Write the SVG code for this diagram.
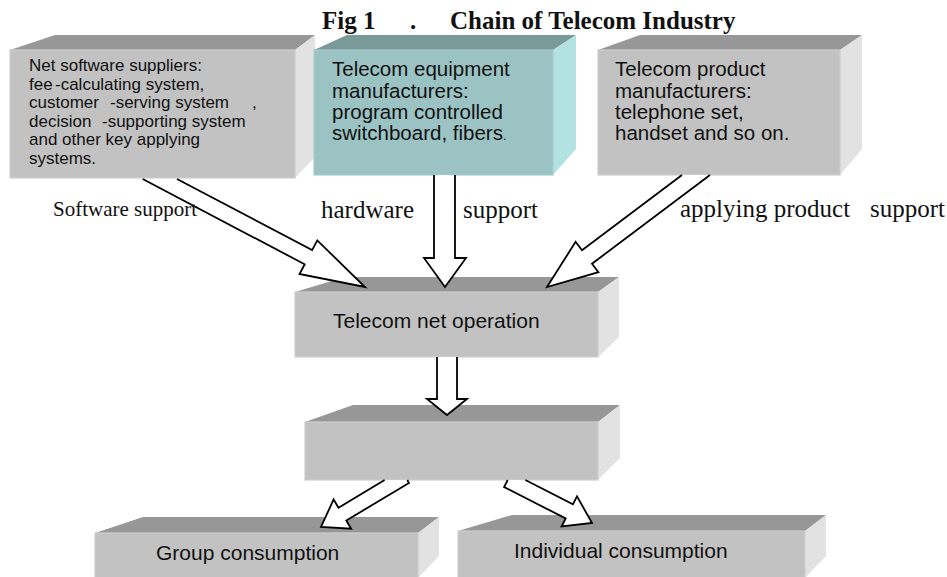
<svg xmlns="http://www.w3.org/2000/svg" width="947" height="577" viewBox="0 0 947 577">
  <style>
    .front { fill: #c2c2c2; stroke: #cdcdcd; stroke-width: 1.2; }
    .top { fill: #979797; }
    .side { fill: #e2e2e2; }
    .tfront { fill: #9cc3c3; stroke: #a8cccc; stroke-width: 1.2; }
    .ttop { fill: #7a9a99; }
    .tside { fill: #b3e2e2; }
    .box-text { font-family: "Liberation Sans", Arial, sans-serif; fill: #111; }
    .lbl { font-family: "Liberation Serif", "Times New Roman", serif; fill: #111; }
    .title { font-family: "Liberation Serif", "Times New Roman", serif; font-weight: bold; font-size: 25px; fill: #111; }
    .arrow { fill: #fff; stroke: #000; stroke-width: 1.8; stroke-linejoin: miter; }
  </style>

  <!-- heading -->
  <text class="title" y="29"><tspan x="322">Fig 1</tspan><tspan x="410">.</tspan><tspan x="450">Chain of Telecom Industry</tspan></text>

  <!-- supplier boxes -->
  <g id="net-software">
    <polygon class="top" points="10,50 55,35 315,35 295,50"/>
    <polygon class="side" points="295,50 315,35 315,157 295,178"/>
    <rect class="front" x="10" y="50" width="285" height="128"/>
    <text class="box-text" font-size="17">
      <tspan x="29" y="71">Net software suppliers:</tspan>
      <tspan x="29" y="89.5">fee</tspan><tspan x="55" y="89.5">-calculating system,</tspan>
      <tspan x="29" y="108">customer</tspan><tspan x="110" y="108">-serving system</tspan><tspan x="252" y="108">,</tspan>
      <tspan x="29" y="126.5">decision</tspan><tspan x="102" y="126.5">-supporting system</tspan>
      <tspan x="29" y="145">and other key applying</tspan>
      <tspan x="29" y="163.5">systems.</tspan>
    </text>
  </g>

  <g id="equipment-makers">
    <polygon class="ttop" points="314,50 347,35 576,35 553,50"/>
    <polygon class="tside" points="553,50 576,35 576,149 553,175"/>
    <rect class="tfront" x="314" y="50" width="239" height="125"/>
    <text class="box-text" font-size="20.5">
      <tspan x="332" y="76">Telecom equipment</tspan>
      <tspan x="332" y="98">manufacturers:</tspan>
      <tspan x="332" y="119">program controlled</tspan>
      <tspan x="332" y="140">switchboard, fibers<tspan font-size="12">.</tspan></tspan>
    </text>
  </g>

  <g id="product-makers">
    <polygon class="top" points="598,50 640,35 862,35 840,50"/>
    <polygon class="side" points="840,50 862,35 862,149 840,175"/>
    <rect class="front" x="598" y="50" width="242" height="125"/>
    <text class="box-text" font-size="20.5">
      <tspan x="615" y="76">Telecom product</tspan>
      <tspan x="615" y="98">manufacturers:</tspan>
      <tspan x="615" y="119">telephone set,</tspan>
      <tspan x="615" y="140">handset and so on.</tspan>
    </text>
  </g>

  <!-- operation and consumption boxes -->
  <g id="net-operation">
    <polygon class="top" points="295,292 345,277 619,277 598,292"/>
    <polygon class="side" points="598,292 619,277 619,337 598,357"/>
    <rect class="front" x="295" y="292" width="303" height="65"/>
    <text class="box-text" font-size="21" x="333" y="328">Telecom net operation</text>
  </g>

  <g id="middle-box">
    <polygon class="top" points="305,422 353,405 620,405 598,422"/>
    <polygon class="side" points="598,422 620,405 620,458 598,480"/>
    <rect class="front" x="305" y="422" width="293" height="58"/>
  </g>

  <g id="group-consumption">
    <polygon class="top" points="95,533 143,517 439,517 418,533"/>
    <polygon class="side" points="418,533 439,517 439,556 418,578"/>
    <rect class="front" x="95" y="533" width="323" height="46"/>
    <text class="box-text" font-size="21" x="156" y="560">Group consumption</text>
  </g>

  <g id="individual-consumption">
    <polygon class="top" points="458,531 512,515 826,515 805,531"/>
    <polygon class="side" points="805,531 826,515 826,556 805,578"/>
    <rect class="front" x="458" y="531" width="347" height="48"/>
    <text class="box-text" font-size="21" x="514" y="558">Individual consumption</text>
  </g>

  <!-- block arrows -->
  <g id="connectors">
    <path class="arrow" d="M142.7,179 L304.7,264.3 L299.5,274 L365,287 L317.3,240.4 L312.1,250.1 L177,179"/>
    <path class="arrow" d="M434,175 L434,258 L424,258 L445,287 L466,258 L455,258 L455,175"/>
    <path class="arrow" d="M682,175 L582,250.3 L575.6,241.8 L547,287 L598.4,272.2 L592,263.7 L710,175"/>
    <path class="arrow" d="M437,357 L437,399 L427,399 L447,415 L467,399 L457,399 L457,357"/>
    <path class="arrow" d="M384.6,480 L338.5,507.7 L333.6,499.5 L321,527 L351.2,528.7 L346.3,520.5 L409,483 L407.3,480"/>
    <path class="arrow" d="M525.4,480 L572.9,504.3 L577,496.3 L592,523 L561.6,526.5 L565.7,518.5 L504.1,487 L507.7,480"/>
  </g>

  <!-- arrow labels -->
  <text class="lbl" font-size="21" x="53" y="216">Software support</text>
  <text class="lbl" font-size="25" x="321" y="218">hardware</text>
  <text class="lbl" font-size="25" x="463" y="218">support</text>
  <text class="lbl" font-size="25" x="680" y="217">applying product</text>
  <text class="lbl" font-size="25" x="870" y="217">support</text>
</svg>
